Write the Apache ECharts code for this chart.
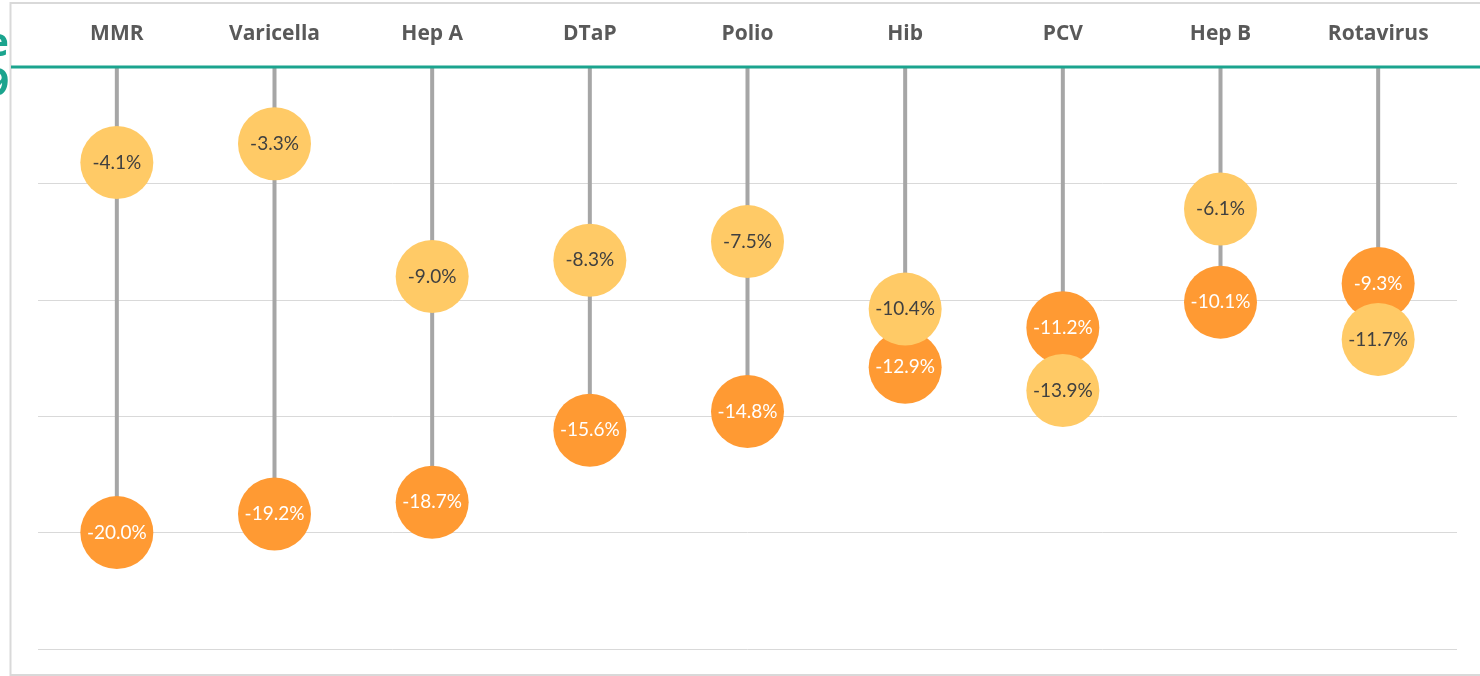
<!DOCTYPE html>
<html>
<head>
<meta charset="utf-8">
<script src="https://cdn.jsdelivr.net/npm/echarts@6/dist/echarts.min.js"></script>
<style>
html,body{margin:0;padding:0;background:#fff;}
#chart{width:1480px;height:676px;}
</style>
</head>
<body>
<div id="chart"></div>
<script>
const categories = ['MMR','Varicella','Hep A','DTaP','Polio','Hib','PCV','Hep B','Rotavirus'];
const yellowValues = [-4.1, -3.3, -9.0, -8.3, -7.5, -10.4, -13.9, -6.1, -11.7];
const orangeValues = [-20.0, -19.2, -18.7, -15.6, -14.8, -12.9, -11.2, -10.1, -9.3];
const yTicks = [0, -5, -10, -15, -20, -25];

const stemValues = categories.map((c, i) => Math.min(yellowValues[i], orangeValues[i]));
const FONT = '"Open Sans", "Liberation Sans", sans-serif';
const VFONT = 'Lato, "Open Sans", sans-serif';
const TEAL = '#1BA48E';

const chart = echarts.init(document.getElementById('chart'), null, {renderer: 'canvas'});
chart.setOption({
  animation: false,
  backgroundColor: '#ffffff',
  grid: {left: 38, right: 23, top: 67, bottom: 27, containLabel: false},
  xAxis: {
    type: 'category',
    position: 'top',
    data: categories,
    axisLine: {show: false},
    axisTick: {show: false},
    axisLabel: {
      margin: 22,
      fontFamily: FONT,
      fontWeight: 'bold',
      fontSize: 21,
      color: '#595959'
    }
  },
  yAxis: {
    type: 'value',
    min: yTicks[yTicks.length - 1],
    max: yTicks[0],
    interval: 5,
    axisLine: {show: false},
    axisTick: {show: false},
    axisLabel: {show: false},
    splitLine: {lineStyle: {color: '#d9d9d9', width: 1}}
  },
  graphic: [
    {type: 'rect', shape: {x: 10.5, y: 3, width: 1480, height: 672}, style: {fill: 'none', stroke: '#d9d9d9', lineWidth: 2}, z: 1},
    {type: 'line', shape: {x1: 11, y1: 67, x2: 1480, y2: 67}, style: {stroke: TEAL, lineWidth: 3}, z: 10},
    {type: 'text', x: 9, y: 45, style: {text: 'e', fill: TEAL, font: 'bold 40px ' + FONT, textAlign: 'right', textVerticalAlign: 'middle'}, z: 10},
    {type: 'text', x: 9, y: 85, style: {text: '9', fill: TEAL, font: 'bold 40px ' + FONT, textAlign: 'right', textVerticalAlign: 'middle'}, z: 10}
  ],
  series: [
    {
      name: 'Stem',
      type: 'bar',
      data: stemValues,
      barWidth: 4,
      itemStyle: {color: '#a6a6a6'},
      z: 2,
      silent: true
    },
    {
      name: 'Orange',
      type: 'scatter',
      data: orangeValues,
      symbol: 'circle',
      symbolSize: 73,
      itemStyle: {color: '#FF9A33', opacity: 1},
      label: {
        show: true,
        position: 'inside',
        formatter: p => p.value.toFixed(1) + '%',
        color: '#ffffff',
        fontFamily: VFONT,
        fontSize: 19
      },
      z: 3
    },
    {
      name: 'Yellow',
      type: 'scatter',
      data: yellowValues,
      symbol: 'circle',
      symbolSize: 73,
      itemStyle: {color: '#FFCA66', opacity: 1},
      label: {
        show: true,
        position: 'inside',
        formatter: p => p.value.toFixed(1) + '%',
        color: '#404040',
        fontFamily: VFONT,
        fontSize: 19
      },
      z: 4
    }
  ]
});
</script>
</body>
</html>
